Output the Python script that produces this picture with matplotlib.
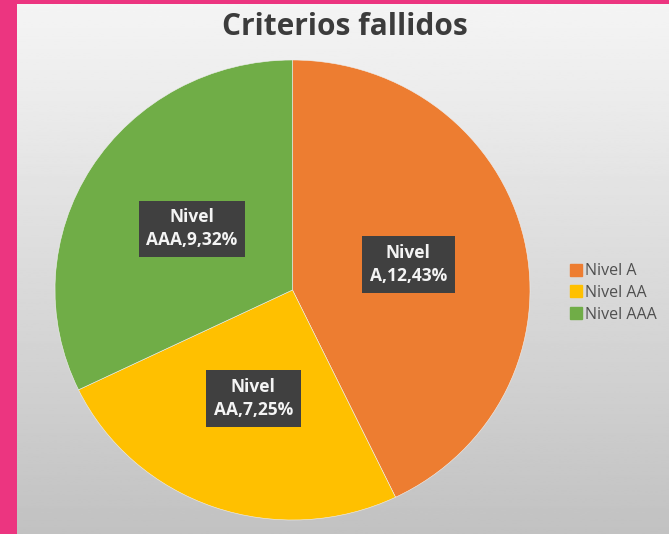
import numpy as np
import matplotlib.pyplot as plt
from matplotlib.patches import Rectangle
from matplotlib.lines import Line2D

# data
niveles = ["Nivel A", "Nivel AA", "Nivel AAA"]
fallidos = [12, 7, 9]
etiquetas = ["Nivel\nA,12,43%", "Nivel\nAA,7,25%", "Nivel\nAAA,9,32%"]
colores = ["#ED7D31", "#FFC000", "#70AD47"]

W, H = 669, 534
fig = plt.figure(figsize=(W / 100, H / 100), dpi=100)

# background: grey gradient with pink frame
bg = fig.add_axes([0, 0, 1, 1], zorder=-10)
grad = np.linspace(0.96, 0.76, 256).reshape(-1, 1)
bg.imshow(grad, cmap="gray", vmin=0, vmax=1, aspect="auto",
          extent=(0, W, 0, H))
bg.add_patch(Rectangle((0, 0), 17, H, color="#EC3580", lw=0))
bg.add_patch(Rectangle((0, H - 4), W, 4, color="#EC3580", lw=0))
bg.set_xlim(0, W)
bg.set_ylim(0, H)
bg.axis("off")

# pie
cx, cy, rx, ry = 292.5, 290, 237.5, 230
ax = fig.add_axes([(cx - rx) / W, (H - cy - ry) / H, 2 * rx / W, 2 * ry / H])
wedges, _ = ax.pie(fallidos, colors=colores, startangle=90, counterclock=False,
                   radius=1, wedgeprops=dict(edgecolor="#f0f0f0", linewidth=0.4))
ax.set_aspect("auto")
ax.set_xlim(-1, 1)
ax.set_ylim(-1, 1)

for w, txt in zip(wedges, etiquetas):
    ang = np.deg2rad((w.theta1 + w.theta2) / 2)
    ax.text(0.5 * np.cos(ang), 0.5 * np.sin(ang), txt, ha="center", va="center",
            color="#f4f4f4", fontsize=12.5, fontweight="bold", family="Open Sans",
            linespacing=1.35,
            bbox=dict(boxstyle="square,pad=0.45", fc="#404040", ec="none"))

fig.text(345 / W, 1 - 27 / H, "Criterios fallidos", ha="center", va="center",
         fontsize=21.5, fontweight="bold", family="Open Sans", color="#3c3c3c")

handles = [Line2D([], [], marker="s", ls="", color=c, markersize=8) for c in colores]
fig.legend(handles, niveles, loc="center left",
           bbox_to_anchor=(563 / W, 1 - 293 / H), frameon=False,
           labelcolor="#505050", handlelength=0.6,
           handletextpad=0.25, labelspacing=0.35, borderpad=0,
           prop={"family": "Open Sans", "size": 11.5})

fig.savefig("out.png", dpi=100)
